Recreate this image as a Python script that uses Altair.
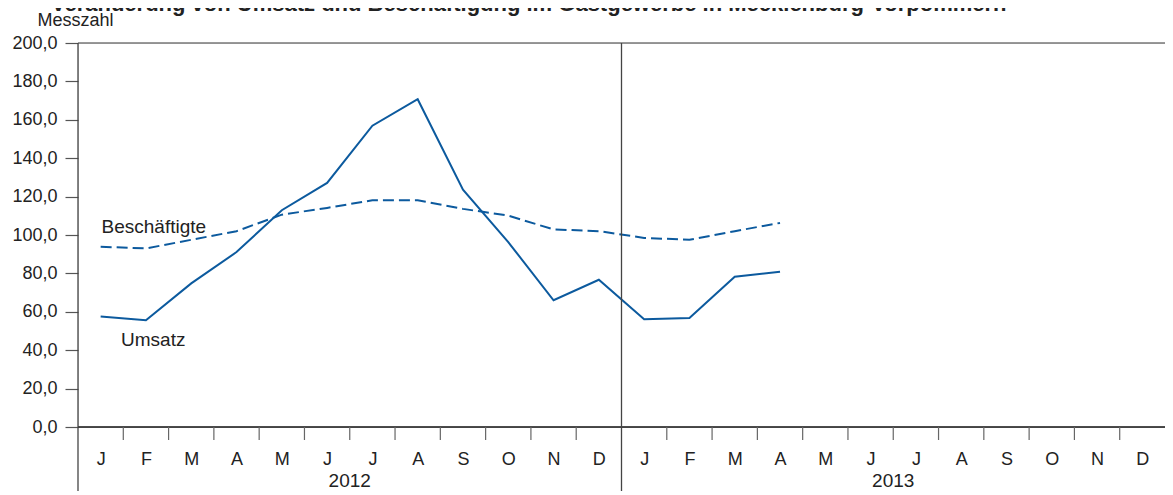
import altair as alt
import pandas as pd

# ---------------- data ----------------
months = ["J", "F", "M", "A", "M", "J", "J", "A", "S", "O", "N", "D"] * 2
years = ["2012", "2013"]
year_pos = [6, 18]
umsatz = [57.5, 55.6, 74.8, 91.1, 112.9, 127.1, 156.9, 170.7, 123.6, 96.3, 66.0, 76.7,
          56.1, 56.8, 78.3, 80.9]
beschaeftigte = [93.9, 93.0, 97.5, 102.0, 110.6, 114.1, 118.1, 118.1, 113.6, 110.1, 102.9, 102.0,
                 98.5, 97.5, 102.0, 106.3]
y_ticks = [0, 20, 40, 60, 80, 100, 120, 140, 160, 180, 200]
label_text = ["Beschäftigte", "Umsatz"]
label_pos = [0.52, 0.95]
label_val = [101.0, 42.3]
title_text = "Veränderung von Umsatz und Beschäftigung im Gastgewerbe in Mecklenburg-Vorpommern"

W, H = 1087, 384
PAD_L, PAD_T, PAD_B = 70, 35, 64
FONT = "Liberation Sans"
BLUE = "#0c5a9e"
TXT = "#222222"

pos = [i + 0.5 for i in range(len(umsatz))]
df = pd.DataFrame({"pos": pos, "umsatz": umsatz, "besch": beschaeftigte})

xscale = alt.Scale(domain=[0, 24], nice=False, zero=False)
yscale = alt.Scale(domain=[0, 200], nice=False)

month_arr = "[" + ",".join("'%s'" % m for m in months) + "]"

xaxis = alt.Axis(values=[i + 0.5 for i in range(24)],
                 labelExpr=month_arr + "[floor(datum.value)]",
                 ticks=False, tickSize=0, domain=False, grid=False,
                 labelPadding=37, labelBaseline="alphabetic",
                 labelFont=FONT, labelFontSize=18, labelColor=TXT,
                 title=None, labelFlush=False, labelOverlap=False)
yaxis = alt.Axis(values=y_ticks,
                 labelExpr="replace(format(datum.value, '.1f'), '.', ',')",
                 tickSize=13, tickColor="#555555", tickWidth=1.2, labelPadding=8,
                 domain=False, grid=False, labelOverlap=False,
                 labelFont=FONT, labelFontSize=18, labelColor=TXT,
                 title="Messzahl", titleAngle=0, titleAlign="left",
                 titleBaseline="alphabetic", titleX=-41, titleY=-18,
                 titleFont=FONT, titleFontSize=18, titleFontWeight="normal",
                 titleColor=TXT)


def X(field):
    return alt.X(field, scale=xscale, axis=xaxis)


def Y(field):
    return alt.Y(field, scale=yscale, axis=yaxis)


base = alt.Chart(df)

umsatz_line = base.mark_line(strokeWidth=2, color=BLUE).encode(
    x=X("pos:Q"), y=Y("umsatz:Q"),
)
besch_line = base.mark_line(strokeWidth=2, color=BLUE, strokeDash=[11, 5]).encode(
    x=X("pos:Q"), y=Y("besch:Q"),
)

# frame lines: top line at 200 (grey) and zero line (black)
top_df = pd.DataFrame({"x0": [0], "x1": [24], "yv": [200]})
top_rule = alt.Chart(top_df).mark_rule(strokeWidth=1.3, color="#777777").encode(
    x=X("x0:Q"), x2="x1:Q", y=Y("yv:Q"),
)
zero_df = pd.DataFrame({"x0": [0], "x1": [24], "yv": [0]})
zero_rule = alt.Chart(zero_df).mark_rule(strokeWidth=1.3, color="#111111").encode(
    x=X("x0:Q"), x2="x1:Q", y=Y("yv:Q"),
)

# left axis line and year separator extending below
vlines_df = pd.DataFrame({"p": [0, 12]})
vlines = alt.Chart(vlines_df).mark_rule(strokeWidth=1.3, color="#444444").encode(
    x=X("p:Q"), y=alt.value(0), y2=alt.value(H + PAD_B),
)

# month boundary ticks
bticks_df = pd.DataFrame({"p": [i for i in range(1, 24) if i != 12]})
bticks = alt.Chart(bticks_df).mark_rule(strokeWidth=1.2, color="#666666").encode(
    x=X("p:Q"), y=alt.value(H), y2=alt.value(H + 13),
)

# year labels
yr_df = pd.DataFrame({"p": year_pos, "t": years})
yr = alt.Chart(yr_df).mark_text(font=FONT, fontSize=19, color=TXT, baseline="alphabetic",
                                 align="center").encode(
    x=X("p:Q"), y=alt.value(H + 60), text="t:N",
)

# series labels
lab_df = pd.DataFrame({"p": label_pos, "v": label_val, "t": label_text})
labs = alt.Chart(lab_df).mark_text(font=FONT, fontSize=19, color=TXT, baseline="alphabetic",
                                   align="left").encode(
    x=X("p:Q"), y=Y("v:Q"), text="t:N",
)

# title (top partly cut like the reference)
ttl = alt.Chart(pd.DataFrame({"t": [title_text]})).mark_text(
    font=FONT, fontSize=22, fontWeight="bold", color=TXT, baseline="alphabetic", align="left"
).encode(x=alt.value(-27), y=alt.value(-32), text="t:N")

chart = alt.layer(umsatz_line, besch_line, top_rule, zero_rule, vlines, bticks, yr, labs, ttl).properties(
    width=W, height=H,
    autosize=alt.AutoSizeParams(type="none"),
    padding={"left": PAD_L, "top": PAD_T, "right": 0, "bottom": PAD_B},
).configure_view(stroke=None).configure(background="white")

chart.save("out.html", embed_options={"renderer": "svg", "actions": False})
